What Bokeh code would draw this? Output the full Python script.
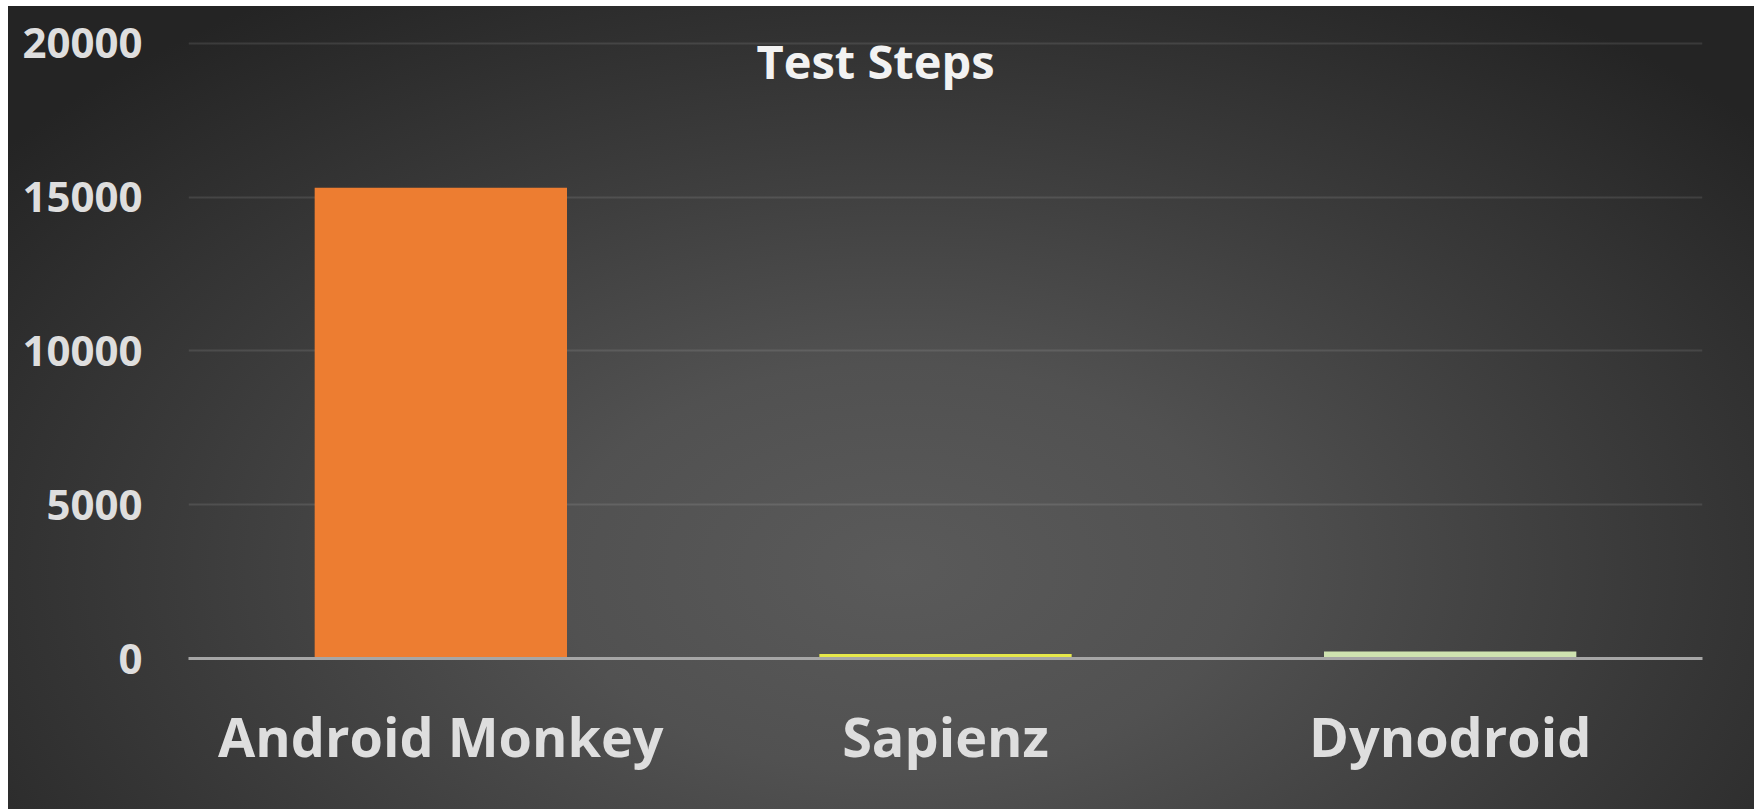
from bokeh.plotting import figure
from bokeh.models import Label, FactorRange, Range1d, ColumnDataSource
from bokeh.embed import file_html
from bokeh.resources import INLINE

tools = ["Android Monkey", "Sapienz", "Dynodroid"]
steps = [15300, 150, 230]
colors = ["#ED7D31", "#E6E84A", "#CFE3B0"]
y_ticks = [0, 5000, 10000, 15000, 20000]

src = ColumnDataSource(dict(tool=tools, steps=steps, color=colors))

p = figure(x_range=FactorRange(*tools, range_padding=0), y_range=Range1d(0, 21000),
           width=1746, height=803, output_backend="svg", toolbar_location=None,
           min_border_left=180, min_border_right=52, min_border_top=6, min_border_bottom=151)
p.margin = (6, 0, 0, 8)

p.styles = {"background": "radial-gradient(ellipse 65% 85% at 51% 70%, #5a5a5a 0%, #515151 30%, #3a3a3a 65%, #242424 100%)"}
p.border_fill_alpha = 0
p.background_fill_alpha = 0
p.outline_line_color = None

p.vbar(x="tool", top="steps", width=0.5, color="color", line_color=None, source=src)

p.yaxis.ticker = y_ticks
p.yaxis.axis_line_color = None
p.yaxis.major_tick_line_color = None
p.yaxis.minor_tick_line_color = None
p.yaxis.major_label_standoff = 40
p.yaxis.major_label_text_font = "Open Sans"
p.yaxis.major_label_text_font_style = "bold"
p.yaxis.major_label_text_font_size = "42px"
p.yaxis.major_label_text_color = "#dedede"

p.xaxis.axis_line_color = "#a6a6a6"
p.xaxis.axis_line_width = 3
p.xaxis.major_tick_line_color = None
p.xaxis.minor_tick_line_color = None
p.xaxis.major_label_standoff = 34
p.xaxis.major_label_text_font = "Open Sans"
p.xaxis.major_label_text_font_style = "bold"
p.xaxis.major_label_text_font_size = "54px"
p.xaxis.major_label_text_color = "#dedede"

p.xgrid.grid_line_color = None
p.ygrid.grid_line_color = "white"
p.ygrid.grid_line_alpha = 0.1
p.ygrid.grid_line_width = 2

title = Label(x=687, y=598, x_units="screen", y_units="screen", text="Test Steps",
              text_align="center", text_baseline="middle", text_font="Open Sans",
              text_font_style="bold", text_font_size="47px", text_color="#f2f2f2")
p.add_layout(title)

open("out.html", "w").write(file_html(p, INLINE))
